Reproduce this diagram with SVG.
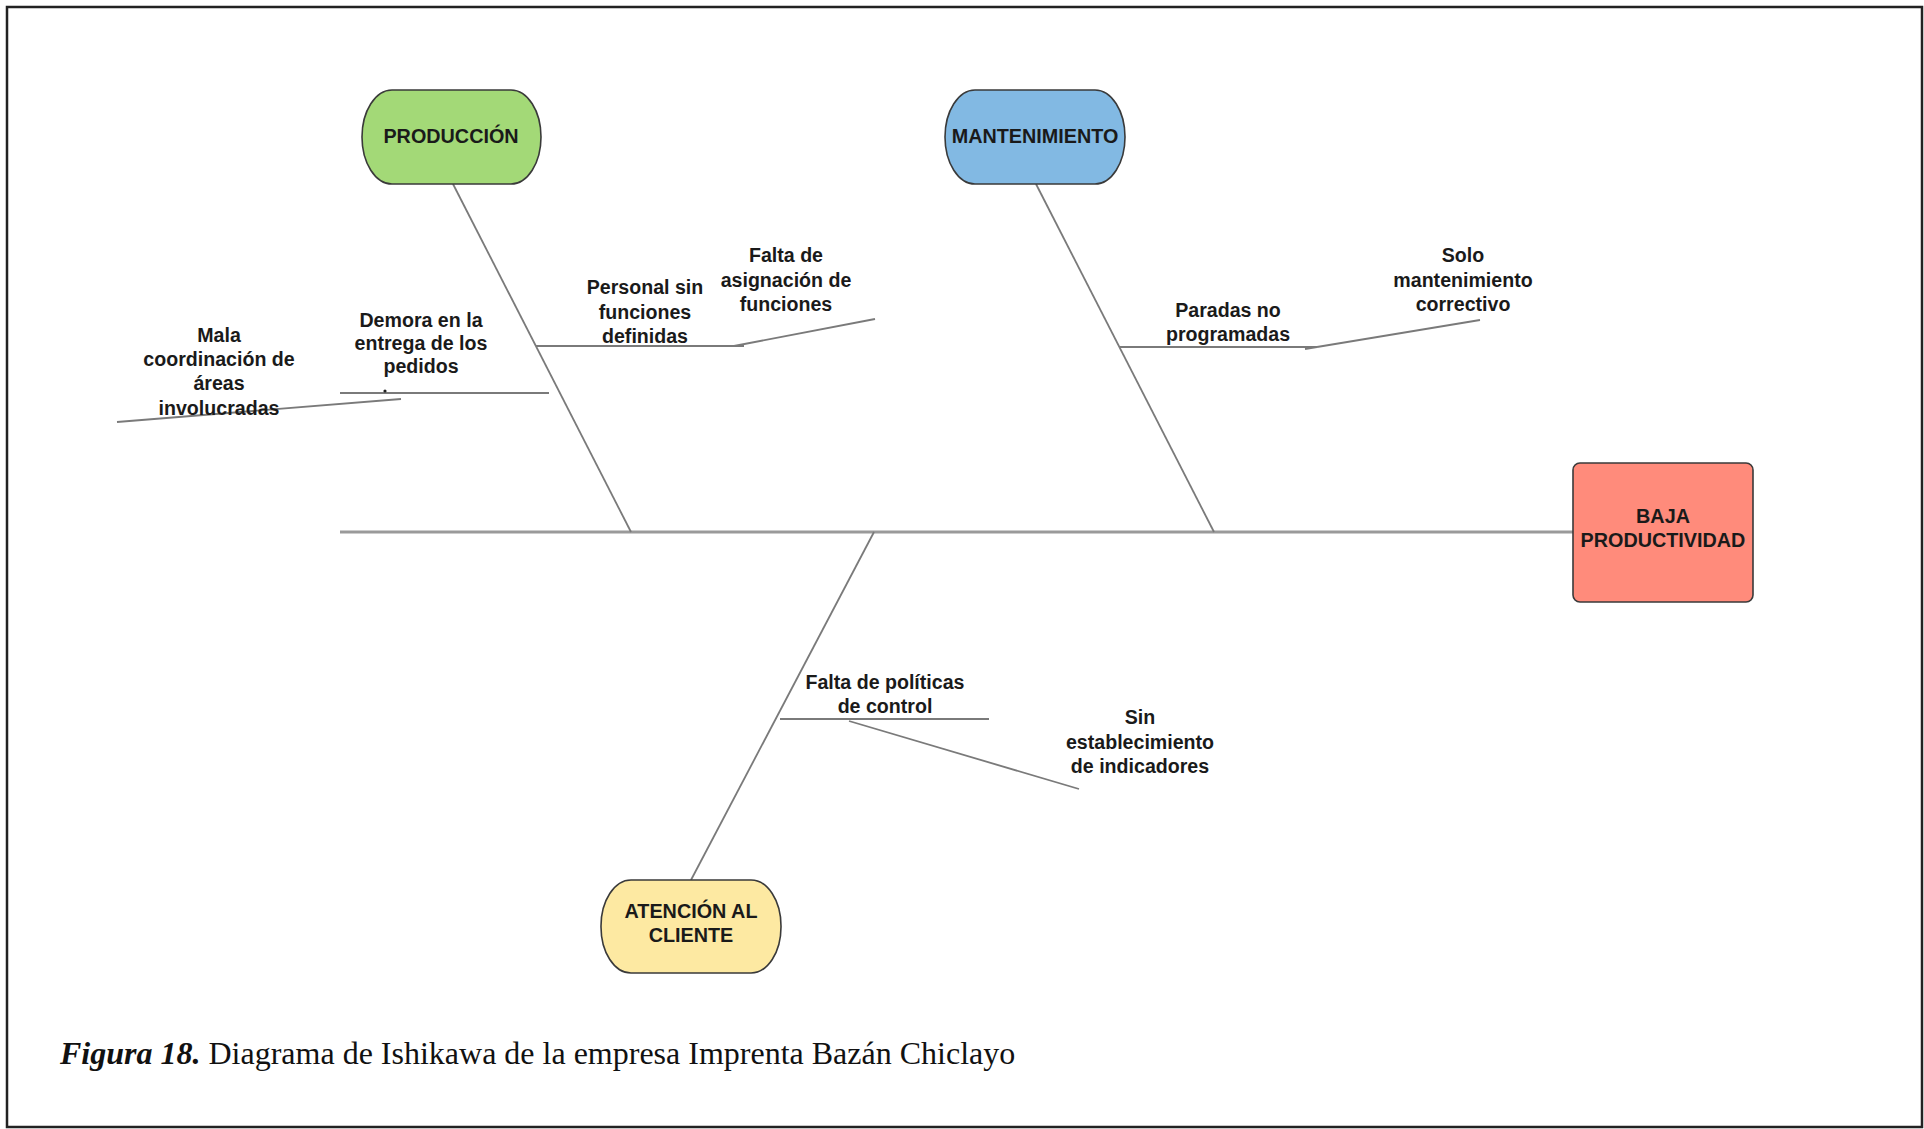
<svg xmlns="http://www.w3.org/2000/svg" width="1924" height="1129" viewBox="0 0 1924 1129">
  <style>
    .frame { fill: #ffffff; stroke: #222222; stroke-width: 2.5; }
    .node { stroke: #3a3a3a; stroke-width: 1.6; }
    .ntext { font-family: "Liberation Sans", Arial, sans-serif; font-weight: bold; font-size: 19.8px; fill: #1a1a1a; text-anchor: middle; }
    .label { font-family: "Liberation Sans", Arial, sans-serif; font-weight: bold; font-size: 19.6px; fill: #1a1a1a; text-anchor: middle; }
    .spine { stroke: #9a9a9a; stroke-width: 3; fill: none; }
    .bone { stroke: #7a7a7a; stroke-width: 1.8; fill: none; }
    .caption { font-family: "Liberation Serif", "Times New Roman", serif; font-size: 32px; fill: #111111; }
  </style>

  <!-- page frame -->
  <rect class="frame" x="7" y="7" width="1915" height="1120"/>

  <!-- connectors: spine, main bones and cause branches -->
  <g id="connectors">
    <line class="spine" x1="340" y1="532" x2="1573" y2="532"/>
    <line class="bone" x1="453" y1="184" x2="631" y2="532"/>
    <line class="bone" x1="1036" y1="184" x2="1214" y2="532"/>
    <line class="bone" x1="874" y1="532" x2="691" y2="880"/>

    <!-- Producción branches -->
    <line class="bone" x1="536" y1="346" x2="744" y2="346"/>
    <line class="bone" x1="734" y1="346" x2="875" y2="319"/>
    <line class="bone" x1="340" y1="393" x2="549" y2="393"/>
    <line class="bone" x1="401" y1="399" x2="117" y2="422"/>
    <circle cx="385" cy="391" r="1.6" fill="#222222"/>

    <!-- Mantenimiento branches -->
    <line class="bone" x1="1120" y1="347" x2="1317" y2="347"/>
    <line class="bone" x1="1305" y1="349" x2="1317" y2="347"/>
    <line class="bone" x1="1317" y1="347" x2="1480" y2="320"/>

    <!-- Atención al cliente branches -->
    <line class="bone" x1="780" y1="719" x2="989" y2="719"/>
    <line class="bone" x1="849" y1="721" x2="1079" y2="789"/>
  </g>

  <!-- category nodes -->
  <g id="produccion">
    <rect class="node" x="362" y="90" width="179" height="94" rx="30" ry="47" fill="#a3d977"/>
    <text class="ntext" x="451" y="143">PRODUCCIÓN</text>
  </g>
  <g id="mantenimiento">
    <rect class="node" x="945" y="90" width="180" height="94" rx="30" ry="47" fill="#82b9e3"/>
    <text class="ntext" x="1035" y="143">MANTENIMIENTO</text>
  </g>
  <g id="atencion-cliente">
    <rect class="node" x="601" y="880" width="180" height="93" rx="30" ry="46" fill="#fde9a2"/>
    <text class="ntext" x="691" y="918">ATENCIÓN AL</text>
    <text class="ntext" x="691" y="942">CLIENTE</text>
  </g>
  <g id="baja-productividad">
    <rect class="node" x="1573" y="463" width="180" height="139" rx="7" ry="7" fill="#ff8b7b"/>
    <text class="ntext" x="1663" y="523">BAJA</text>
    <text class="ntext" x="1663" y="547">PRODUCTIVIDAD</text>
  </g>

  <!-- cause labels -->
  <g id="personal-sin-funciones">
    <text class="label" x="645" y="294">Personal sin</text>
    <text class="label" x="645" y="319">funciones</text>
    <text class="label" x="645" y="343">definidas</text>
  </g>
  <g id="falta-asignacion">
    <text class="label" x="786" y="262">Falta de</text>
    <text class="label" x="786" y="287">asignación de</text>
    <text class="label" x="786" y="311">funciones</text>
  </g>
  <g id="demora-entrega">
    <text class="label" x="421" y="327">Demora en la</text>
    <text class="label" x="421" y="350">entrega de los</text>
    <text class="label" x="421" y="373">pedidos</text>
  </g>
  <g id="mala-coordinacion">
    <text class="label" x="219" y="342">Mala</text>
    <text class="label" x="219" y="366">coordinación de</text>
    <text class="label" x="219" y="390">áreas</text>
    <text class="label" x="219" y="415">involucradas</text>
  </g>
  <g id="paradas-no-programadas">
    <text class="label" x="1228" y="317">Paradas no</text>
    <text class="label" x="1228" y="341">programadas</text>
  </g>
  <g id="solo-correctivo">
    <text class="label" x="1463" y="262">Solo</text>
    <text class="label" x="1463" y="287">mantenimiento</text>
    <text class="label" x="1463" y="311">correctivo</text>
  </g>
  <g id="falta-politicas">
    <text class="label" x="885" y="689">Falta de políticas</text>
    <text class="label" x="885" y="713">de control</text>
  </g>
  <g id="sin-indicadores">
    <text class="label" x="1140" y="724">Sin</text>
    <text class="label" x="1140" y="749">establecimiento</text>
    <text class="label" x="1140" y="773">de indicadores</text>
  </g>

  <!-- figure caption -->
  <text class="caption" x="60" y="1064"><tspan font-weight="bold" font-style="italic">Figura 18.</tspan> Diagrama de Ishikawa de la empresa Imprenta Bazán Chiclayo</text>
</svg>
